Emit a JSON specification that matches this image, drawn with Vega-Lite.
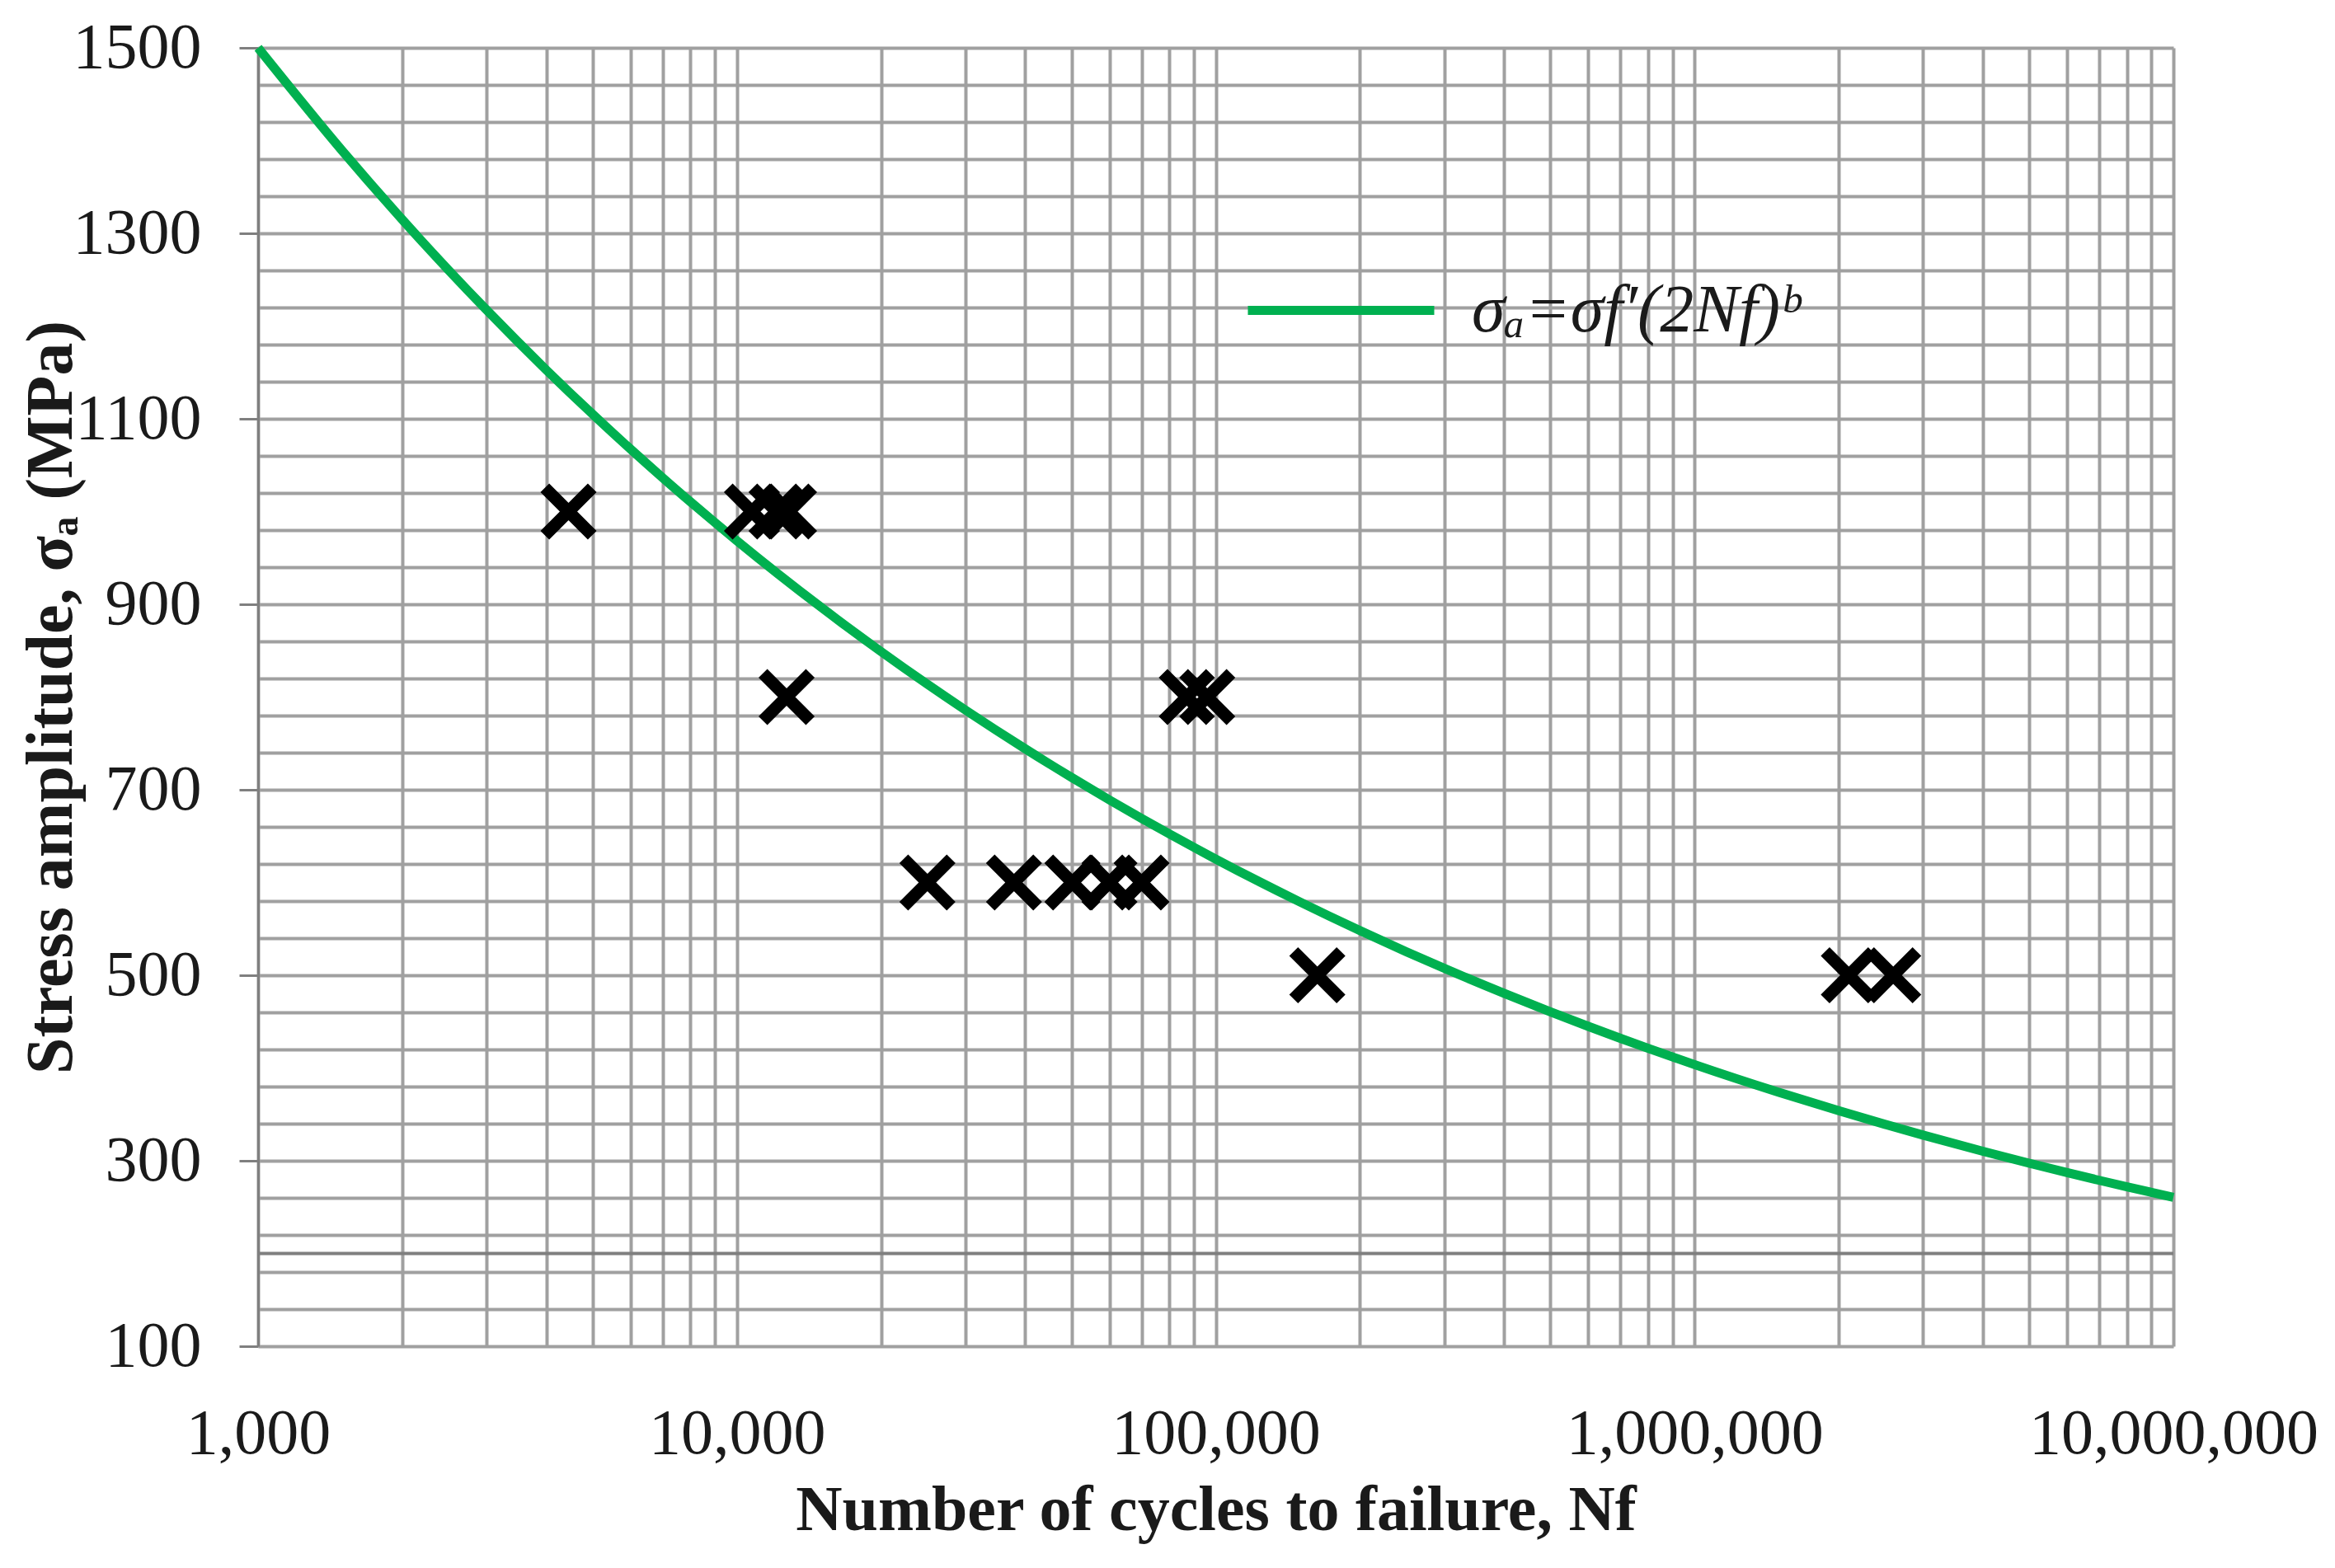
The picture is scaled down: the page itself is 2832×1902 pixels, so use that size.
{
  "$schema": "https://vega.github.io/schema/vega-lite/v6.json",
  "width": 2323,
  "height": 1575,
  "autosize": {"type": "none"},
  "padding": {"left": 313, "top": 58, "right": 196, "bottom": 269},
  "background": "white",
  "config": {"view": {"stroke": null}, "font": "Liberation Serif"},
  "datasets": {
    "curve": [
      {"N": 1000, "stress": 1500}, {"N": 1500, "stress": 1388.8}, {"N": 2000, "stress": 1314.9}, {"N": 2500, "stress": 1260.3},
      {"N": 3000, "stress": 1217.4}, {"N": 4000, "stress": 1152.6}, {"N": 5000, "stress": 1104.8}, {"N": 6000, "stress": 1067.2},
      {"N": 7000, "stress": 1036.4}, {"N": 8000, "stress": 1010.4}, {"N": 9000, "stress": 988.1}, {"N": 10000, "stress": 968.5},
      {"N": 15000, "stress": 896.7}, {"N": 20000, "stress": 849.0}, {"N": 25000, "stress": 813.7}, {"N": 30000, "stress": 786.0},
      {"N": 40000, "stress": 744.2}, {"N": 50000, "stress": 713.3}, {"N": 60000, "stress": 689.0}, {"N": 70000, "stress": 669.1},
      {"N": 80000, "stress": 652.4}, {"N": 90000, "stress": 638.0}, {"N": 100000, "stress": 625.3}, {"N": 150000, "stress": 579.0},
      {"N": 200000, "stress": 548.2}, {"N": 250000, "stress": 525.4}, {"N": 300000, "stress": 507.5}, {"N": 400000, "stress": 480.5},
      {"N": 500000, "stress": 460.5}, {"N": 600000, "stress": 444.9}, {"N": 700000, "stress": 432.0}, {"N": 800000, "stress": 421.2},
      {"N": 900000, "stress": 411.9}, {"N": 1000000, "stress": 403.7}, {"N": 1500000, "stress": 373.8}, {"N": 2000000, "stress": 353.9},
      {"N": 2500000, "stress": 339.2}, {"N": 3000000, "stress": 327.7}, {"N": 4000000, "stress": 310.2}, {"N": 5000000, "stress": 297.3},
      {"N": 6000000, "stress": 287.2}, {"N": 7000000, "stress": 278.9}, {"N": 8000000, "stress": 271.9}, {"N": 9000000, "stress": 265.9},
      {"N": 10000000, "stress": 260.6}
    ],
    "points": [
      {"N": 4450, "stress": 1000}, {"N": 10750, "stress": 1000}, {"N": 12100, "stress": 1000}, {"N": 12850, "stress": 1000},
      {"N": 12700, "stress": 800}, {"N": 87000, "stress": 800}, {"N": 96000, "stress": 800},
      {"N": 25000, "stress": 600}, {"N": 37900, "stress": 600}, {"N": 50200, "stress": 600}, {"N": 60000, "stress": 600}, {"N": 70000, "stress": 600},
      {"N": 163000, "stress": 500}, {"N": 2100000, "stress": 500}, {"N": 2600000, "stress": 500}
    ]
  },
  "layer": [
    {
      "data": {"name": "curve"},
      "mark": {"type": "line", "strokeWidth": 11, "interpolate": "monotone"},
      "encoding": {
        "x": {
          "field": "N", "type": "quantitative",
          "scale": {"type": "log", "domain": [1000, 10000000], "nice": false},
          "axis": {
            "values": [1000, 2000, 3000, 4000, 5000, 6000, 7000, 8000, 9000, 10000, 20000, 30000, 40000, 50000, 60000, 70000, 80000, 90000, 100000, 200000, 300000, 400000, 500000, 600000, 700000, 800000, 900000, 1000000, 2000000, 3000000, 4000000, 5000000, 6000000, 7000000, 8000000, 9000000, 10000000],
            "grid": true, "gridColor": "#a0a0a0", "gridWidth": 4,
            "ticks": false, "domain": false,
            "labelExpr": "indexof([1000, 10000, 100000, 1000000, 10000000], datum.value) >= 0 ? format(datum.value, ',') : ''",
            "labelFontSize": 78, "labelFont": "Liberation Serif", "labelColor": "#1a1a1a",
            "labelPadding": 67, "labelFlush": false, "labelOverlap": false, "labelBound": false, "labelLimit": 0,
            "title": "Number of cycles to failure, Nf",
            "titleFontSize": 78, "titleFontWeight": "bold", "titleFont": "Liberation Serif", "titleColor": "#1a1a1a",
            "titleBaseline": "alphabetic", "titleY": 222, "titleX": 1161.5, "titleLimit": 0
          }
        },
        "y": {
          "field": "stress", "type": "quantitative",
          "scale": {"domain": [100, 1500], "nice": false, "zero": false},
          "axis": {
            "values": [100, 140, 180, 220, 260, 300, 340, 380, 420, 460, 500, 540, 580, 620, 660, 700, 740, 780, 820, 860, 900, 940, 980, 1020, 1060, 1100, 1140, 1180, 1220, 1260, 1300, 1340, 1380, 1420, 1460, 1500],
            "grid": true, "gridColor": "#a0a0a0", "gridWidth": 4,
            "domainColor": "#7f7f7f", "domainWidth": 3,
            "tickColor": "#7f7f7f", "tickWidth": 3, "tickSize": 23,
            "tickOpacity": {"condition": {"test": "(datum.value - 100) % 200 === 0", "value": 1}, "value": 0},
            "labelExpr": "(datum.value - 100) % 200 === 0 ? '' + datum.value : ''",
            "labelFontSize": 78, "labelFont": "Liberation Serif", "labelColor": "#1a1a1a",
            "labelPadding": 46, "labelOverlap": false, "labelBound": false, "labelFlush": false, "labelLimit": 0,
            "title": "Stress amplitude, σₐ (MPa)",
            "titleFontSize": 80, "titleFontWeight": "bold", "titleFont": "Liberation Serif", "titleColor": "#1a1a1a",
            "titleBaseline": "alphabetic", "titleX": -227, "titleY": 787.5, "titleLimit": 0
          }
        },
        "color": {
          "datum": "σₐ=σf′(2Nf)ᵇ", "type": "nominal",
          "scale": {"range": ["#00B050"]},
          "legend": {
            "orient": "none", "legendX": 1195, "legendY": 200, "title": null,
            "symbolType": "stroke", "symbolSize": 51076, "symbolStrokeWidth": 11,
            "labelFontSize": 82, "labelFont": "Liberation Serif", "labelFontStyle": "italic", "labelColor": "#1a1a1a",
            "labelOffset": 40, "padding": 0, "labelLimit": 0
          }
        }
      }
    },
    {
      "data": {"values": [{}]},
      "mark": {"type": "rule", "color": "#7f7f7f", "strokeWidth": 4},
      "encoding": {"y": {"datum": 200}}
    },
    {
      "data": {"name": "points"},
      "mark": {"type": "point", "shape": "M-1,-1L1,1M1,-1L-1,1", "size": 3300, "stroke": "black", "strokeWidth": 15, "filled": false, "opacity": 1, "strokeCap": "butt"},
      "encoding": {
        "x": {"field": "N", "type": "quantitative"},
        "y": {"field": "stress", "type": "quantitative"}
      }
    }
  ]
}
